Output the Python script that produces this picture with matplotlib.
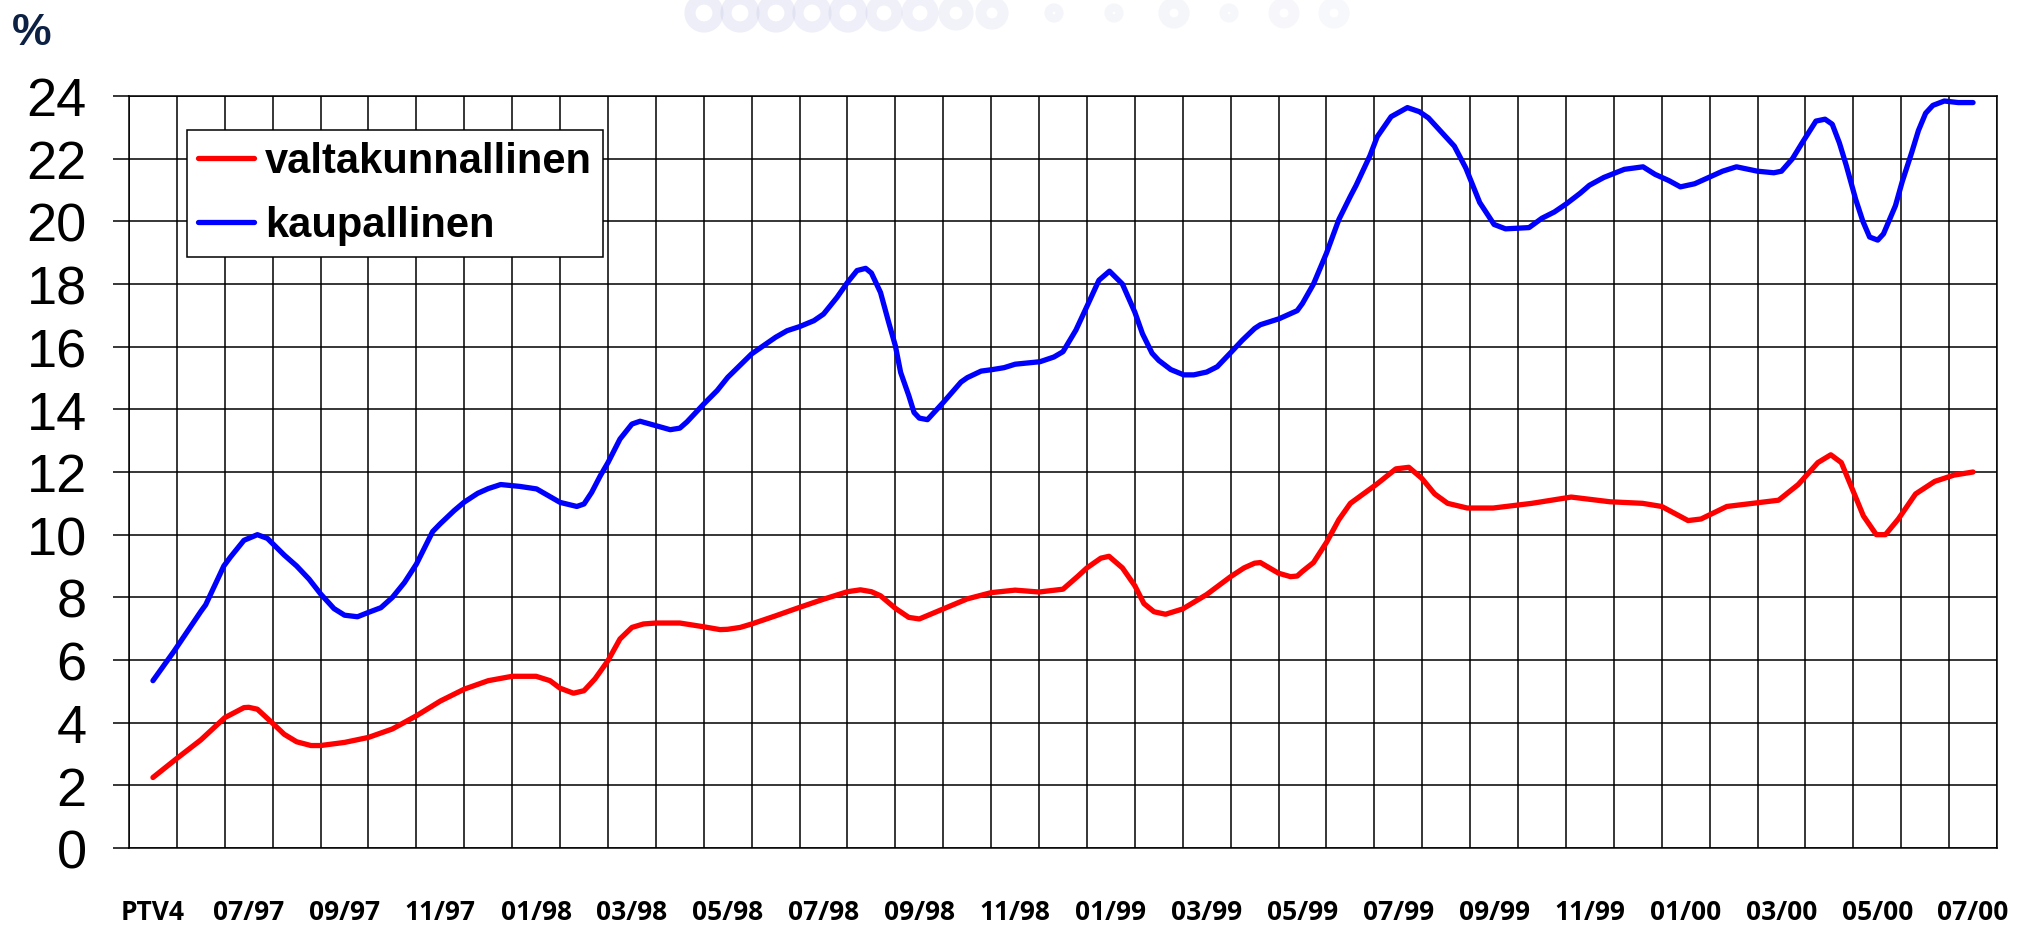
import numpy as np
import matplotlib
matplotlib.use("Agg")
import matplotlib.pyplot as plt
from matplotlib import font_manager
from matplotlib.font_manager import FontProperties

# ---------------- data ----------------
tick_labels = ["PTV4", "07/97", "09/97", "11/97", "01/98", "03/98", "05/98",
               "07/98", "09/98", "11/98", "01/99", "03/99", "05/99", "07/99",
               "09/99", "11/99", "01/00", "03/00", "05/00", "07/00"]
n_months = 39          # PTV4 (05/97) ... 07/00, one category per month

# positions in months since PTV4, values in %
valt_pos = [0, 0.5, 1, 1.5, 1.9, 2, 2.18, 2.5, 2.74, 3, 3.3, 3.5, 4, 4.5, 5, 5.5, 6, 6.5,
            7, 7.5, 8, 8.29, 8.5, 8.78, 9, 9.23, 9.5, 9.75, 10, 10.24, 10.5, 11, 11.5,
            11.84, 12, 12.26, 12.5, 13, 13.5, 14, 14.5, 14.77, 15, 15.19, 15.5, 15.78,
            16, 16.5, 17, 17.5, 18, 18.5, 19, 19.3, 19.5, 19.79, 19.96, 20.24, 20.5,
            20.69, 20.9, 21.14, 21.5, 22, 22.5, 22.78, 23, 23.12, 23.5, 23.75, 23.89,
            24, 24.23, 24.5, 24.76, 25, 25.54, 25.95, 26.22, 26.49, 26.76, 27.03, 27.44,
            27.98, 28.79, 29.61, 30.42, 31.1, 31.5, 32.05, 32.32, 32.86, 33.4, 33.94,
            34.35, 34.76, 35.03, 35.25, 35.44, 35.71, 35.98, 36.17, 36.44, 36.8, 37.2,
            37.6, 38]
valtakunnallinen = [2.25, 2.86, 3.45, 4.16, 4.48, 4.49, 4.43, 3.98, 3.63, 3.39, 3.27, 3.27,
                    3.37, 3.53, 3.80, 4.22, 4.69, 5.07, 5.34, 5.48, 5.48, 5.34, 5.10, 4.94,
                    5.02, 5.40, 5.98, 6.67, 7.04, 7.15, 7.18, 7.18, 7.06, 6.97, 6.98, 7.04,
                    7.15, 7.41, 7.68, 7.94, 8.18, 8.24, 8.18, 8.05, 7.65, 7.36, 7.31, 7.63,
                    7.95, 8.15, 8.23, 8.17, 8.26, 8.66, 8.94, 9.25, 9.31, 8.94, 8.37, 7.80,
                    7.54, 7.46, 7.63, 8.09, 8.66, 8.94, 9.09, 9.11, 8.77, 8.66, 8.68, 8.83,
                    9.11, 9.75, 10.48, 11.0, 11.6, 12.1, 12.15, 11.8, 11.3, 11.0, 10.85,
                    10.85, 11.0, 11.2, 11.05, 11.0, 10.9, 10.45, 10.5, 10.9, 11.0, 11.1,
                    11.6, 12.3, 12.55, 12.3, 11.6, 10.6, 10.0, 10.0, 10.5, 11.3, 11.7,
                    11.9, 12.0]

kaup_pos = [0, 0.44, 1, 1.1, 1.48, 1.62, 1.9, 2.18, 2.39, 2.74, 3, 3.26, 3.5, 3.78, 4,
            4.27, 4.5, 4.76, 5, 5.25, 5.5, 5.84, 6, 6.29, 6.5, 6.78, 7, 7.26, 7.47, 7.66,
            8.01, 8.5, 8.85, 9, 9.16, 9.34, 9.5, 9.75, 10, 10.17, 10.5, 10.8, 11, 11.15,
            11.5, 11.78, 12, 12.5, 13, 13.24, 13.5, 13.8, 14, 14.28, 14.5, 14.7, 14.88,
            15, 15.19, 15.36, 15.5, 15.61, 15.78, 15.89, 16, 16.17, 16.5, 16.87, 17,
            17.29, 17.53, 17.77, 18, 18.52, 18.81, 19, 19.27, 19.51, 19.75, 19.97, 20.24,
            20.5, 20.66, 20.86, 21, 21.25, 21.52, 21.73, 22, 22.22, 22.52, 22.74, 23,
            23.12, 23.51, 23.89, 24, 24.23, 24.5, 24.76, 25, 25.12, 25.41, 25.56, 25.85,
            26.19, 26.44, 26.63, 26.87, 27.17, 27.41, 27.7, 28, 28.24, 28.73, 29, 29.26,
            29.51, 29.8, 29.99, 30.29, 30.72, 31.11, 31.36, 31.65, 31.89, 32.19, 32.48,
            32.77, 33.06, 33.5, 33.84, 34, 34.23, 34.43, 34.72, 34.91, 35.06, 35.21,
            35.35, 35.55, 35.7, 35.84, 36.01, 36.13, 36.38, 36.52, 36.72, 36.86, 37.01,
            37.16, 37.4, 37.69, 38]
kaupallinen = [5.34, 6.28, 7.55, 7.76, 9.0, 9.29, 9.82, 10.0, 9.88, 9.35, 9.0, 8.58, 8.11,
               7.64, 7.43, 7.38, 7.52, 7.67, 8.0, 8.47, 9.06, 10.1, 10.35, 10.77, 11.04,
               11.32, 11.47, 11.6, 11.57, 11.54, 11.46, 11.03, 10.9, 10.98, 11.35, 11.88,
               12.3, 13.05, 13.53, 13.62, 13.48, 13.35, 13.4, 13.6, 14.17, 14.6, 15.02,
               15.77, 16.3, 16.51, 16.64, 16.83, 17.04, 17.57, 18.05, 18.43, 18.5, 18.35,
               17.73, 16.78, 16.03, 15.18, 14.44, 13.9, 13.72, 13.67, 14.22, 14.87, 15.01,
               15.22, 15.27, 15.33, 15.44, 15.52, 15.67, 15.84, 16.53, 17.32, 18.12, 18.41,
               18.0, 17.1, 16.41, 15.79, 15.56, 15.27, 15.1, 15.1, 15.19, 15.36, 15.84,
               16.2, 16.58, 16.7, 16.89, 17.15, 17.38, 18.0, 18.98, 20.06, 20.8, 21.15,
               22.1, 22.7, 23.34, 23.63, 23.5, 23.3, 22.9, 22.4, 21.7, 20.6, 19.9, 19.76,
               19.8, 20.1, 20.3, 20.56, 20.9, 21.15, 21.4, 21.66, 21.74, 21.5, 21.3, 21.1,
               21.2, 21.4, 21.6, 21.74, 21.6, 21.55, 21.6, 22.0, 22.5, 23.2, 23.26, 23.1,
               22.5, 21.8, 20.7, 20.0, 19.5, 19.4, 19.6, 20.5, 21.26, 22.2, 22.9, 23.45,
               23.7, 23.84, 23.79, 23.79]

series_names = ["valtakunnallinen", "kaupallinen"]
series_colors = ["#ff0000", "#0000ff"]

# ---------------- fonts ----------------
available = {f.name for f in font_manager.fontManager.ttflist}
narrow = "Liberation Sans Narrow" if "Liberation Sans Narrow" in available else "Liberation Sans"
humanist = "Open Sans" if "Open Sans" in available else "DejaVu Sans"

# ---------------- figure ----------------
W, H = 2032, 928
fig = plt.figure(figsize=(W / 100, H / 100), dpi=100)

# very faint logo fragment at the top edge
logo = fig.add_axes([674 / W, 1 - 36 / H, 700 / W, 36 / H])
logo.set_xlim(0, 700)
logo.set_ylim(0, 36)
logo.axis("off")
for cx, r, a in [(30, 14, 0.30), (66, 14, 0.30), (102, 14, 0.30), (138, 14, 0.28),
                 (174, 14, 0.28), (210, 13, 0.26), (246, 13, 0.24), (282, 12, 0.22),
                 (318, 11, 0.20), (380, 4, 0.18), (440, 4, 0.16), (500, 10, 0.16),
                 (555, 4, 0.14), (610, 10, 0.13), (660, 10, 0.12)]:
    logo.add_patch(plt.Circle((cx, 22), r, fill=False, lw=8, color="#c4c8e6", alpha=a))

ax = fig.add_axes([129 / W, 79 / H, 1868 / W, 752 / H])
ax.set_xlim(-0.5, n_months - 0.5)
ax.set_ylim(0, 24)

grid_lw = 1.1
ax.set_xticks(range(0, n_months, 2))
ax.set_xticklabels(tick_labels, fontproperties=FontProperties(family=humanist, weight="bold", size=19))
ax.set_xticks(np.arange(-0.5, n_months, 1.0), minor=True)
ax.set_yticks(range(0, 25, 2))
ax.set_yticklabels([str(v) for v in range(0, 25, 2)],
                   fontproperties=FontProperties(family=narrow, size=39))

ax.grid(which="minor", axis="x", color="black", lw=grid_lw)
ax.grid(which="major", axis="x", visible=False)
ax.grid(which="major", axis="y", color="black", lw=grid_lw)
ax.set_axisbelow(True)

ax.tick_params(axis="x", which="both", length=0, pad=36)
ax.tick_params(axis="y", direction="out", length=11.5, width=grid_lw, pad=19, colors="black")
for s in ax.spines.values():
    s.set_color("black")
    s.set_linewidth(grid_lw)

for pos, vals, name, col in zip([valt_pos, kaup_pos], [valtakunnallinen, kaupallinen],
                                series_names, series_colors):
    ax.plot(pos, vals, color=col, lw=3.8, label=name,
            solid_joinstyle="round", solid_capstyle="round", zorder=3)

leg = ax.legend(loc="upper left", bbox_to_anchor=(0.031, 0.955), borderaxespad=0,
                prop=FontProperties(family="Liberation Sans", weight="bold", size=30),
                frameon=True, fancybox=False, edgecolor="black", facecolor="white",
                framealpha=1, borderpad=0.27, handlelength=1.35, handletextpad=0.25,
                labelspacing=0.58)
leg.get_frame().set_linewidth(grid_lw)
leg.set_zorder(5)

fig.text(12 / W, 1 - 13 / H, "%", ha="left", va="top", color="#0d2145",
         fontproperties=FontProperties(family=narrow, weight="bold", size=32))

fig.savefig("out.png", dpi=100)
